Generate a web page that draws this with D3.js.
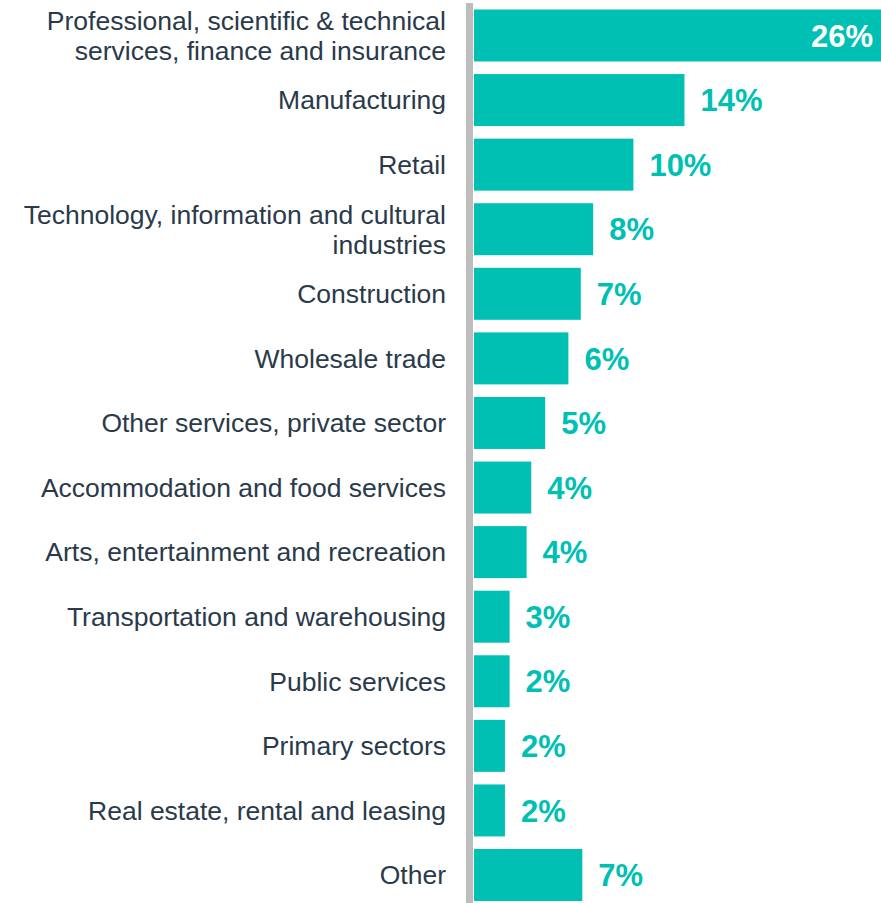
<!DOCTYPE html>
<html>
<head>
<meta charset="utf-8">
<script src="https://cdn.jsdelivr.net/npm/d3@7"></script>
<style>
  body { margin: 0; background: #fff; }
  svg { display: block; }
</style>
</head>
<body>
<svg id="chart"></svg>
<script>
// data
var sectors = [
  ["Professional, scientific & technical", "services, finance and insurance"],
  ["Manufacturing"],
  ["Retail"],
  ["Technology, information and cultural", "industries"],
  ["Construction"],
  ["Wholesale trade"],
  ["Other services, private sector"],
  ["Accommodation and food services"],
  ["Arts, entertainment and recreation"],
  ["Transportation and warehousing"],
  ["Public services"],
  ["Primary sectors"],
  ["Real estate, rental and leasing"],
  ["Other"]
];
var shares = [26.3, 13.6, 10.3, 7.7, 6.9, 6.1, 4.6, 3.7, 3.4, 2.3, 2.3, 2.0, 2.0, 7.0];
var shareLabels = ["26%", "14%", "10%", "8%", "7%", "6%", "5%", "4%", "4%", "3%", "2%", "2%", "2%", "7%"];

var width = 881, height = 903;
var teal = "#00BFB3";
var axisLeft = 466, barLeft = 474;

var svg = d3.select("#chart")
  .attr("width", width)
  .attr("height", height);

var ids = d3.range(sectors.length);

var y = d3.scaleBand()
  .domain(ids)
  .range([3.2, 907.3])
  .paddingInner(0.195)
  .paddingOuter(0.0975);

var x = d3.scaleLinear()
  .domain([0, 26.3])
  .range([barLeft, width]);

//bars
svg.selectAll("rect.bar")
  .data(ids)
  .enter()
  .append("rect")
  .attr("class", "bar")
  .attr("x", x(0))
  .attr("y", function(i){ return y(i); })
  .attr("width", function(i){ return x(shares[i]) - x(0); })
  .attr("height", y.bandwidth())
  .attr("fill", teal);

//vertical axis line
svg.append("rect")
  .attr("x", axisLeft)
  .attr("y", 3)
  .attr("width", 7)
  .attr("height", height - 3)
  .attr("fill", "#BDBDBD");

//category labels
var labels = svg.selectAll("text.cat")
  .data(ids)
  .enter()
  .append("text")
  .attr("class", "cat")
  .attr("text-anchor", "end")
  .style("font", "26.5px 'Liberation Sans', Arial, sans-serif")
  .style("fill", "#2A3A4A");

labels.each(function(i){
  var lines = sectors[i];
  var cy = y(i) + y.bandwidth()/2;
  var lh = 30;
  var t = d3.select(this);
  lines.forEach(function(l, k){
    t.append("tspan")
      .attr("x", 446)
      .attr("y", cy + (k - (lines.length-1)/2)*lh)
      .attr("dy", "0.35em")
      .text(l);
  });
});

//value labels
svg.selectAll("text.val")
  .data(ids)
  .enter()
  .append("text")
  .attr("class", "val")
  .attr("x", function(i){ return i == 0 ? x(shares[i]) - 8 : x(shares[i]) + 16; })
  .attr("y", function(i){ return y(i) + y.bandwidth()/2; })
  .attr("dy", "0.36em")
  .attr("text-anchor", function(i){ return i == 0 ? "end" : "start"; })
  .style("font", "bold 31px 'Liberation Sans', Arial, sans-serif")
  .style("fill", function(i){ return i == 0 ? "#fff" : teal; })
  .text(function(i){ return shareLabels[i]; });
</script>
</body>
</html>
